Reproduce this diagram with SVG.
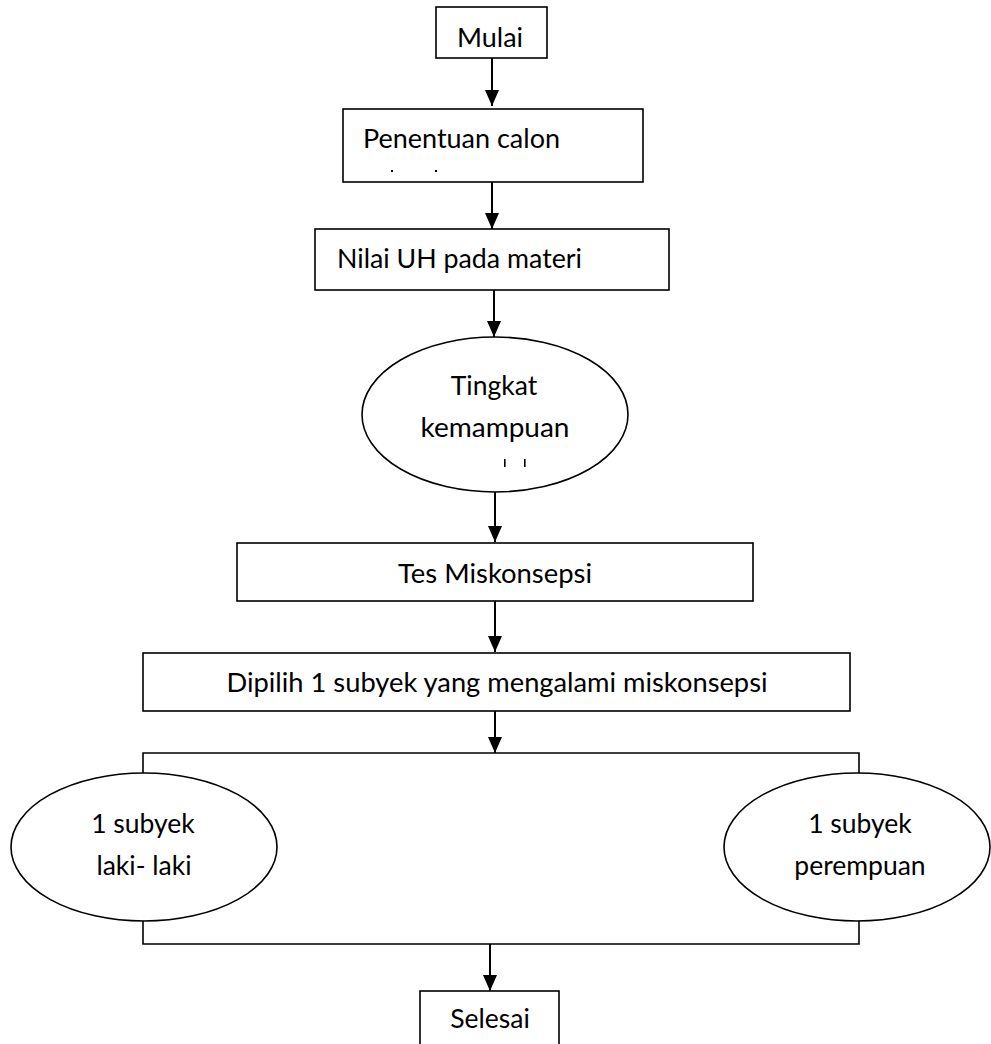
<svg xmlns="http://www.w3.org/2000/svg" width="991" height="1044" viewBox="0 0 991 1044">
<style>
.box{fill:#fff;stroke:#000;stroke-width:1.6}
.t{font-family:Lato,"Liberation Sans",sans-serif;font-size:26.5px;fill:#000}
.c{text-anchor:middle}
.ln{fill:none;stroke:#000;stroke-width:2}
.br{fill:none;stroke:#000;stroke-width:1.6}
.mk{fill:#000;stroke:none}
</style>
<defs>
<marker id="ah" markerUnits="userSpaceOnUse" markerWidth="16" markerHeight="16" refX="16" refY="7" orient="auto">
<path d="M0,0 L16,7 L0,14 Z" fill="#000"/>
</marker>
</defs>
<rect width="991" height="1044" fill="#fff"/>
<g id="mulai">
<rect class="box" x="436" y="7" width="111" height="51"/>
<text class="t c" x="490" y="47" textLength="66" lengthAdjust="spacingAndGlyphs">Mulai</text>
</g>
<g id="penentuan">
<rect class="box" x="343" y="109" width="300" height="73"/>
<text class="t" x="363" y="148" textLength="197" lengthAdjust="spacingAndGlyphs">Penentuan calon</text>
<rect class="mk" x="391" y="170" width="2" height="2"/>
<rect class="mk" x="435" y="170" width="2" height="2"/>
</g>
<g id="nilai">
<rect class="box" x="315" y="229" width="354" height="61"/>
<text class="t" x="337" y="268" textLength="245" lengthAdjust="spacingAndGlyphs">Nilai UH pada materi</text>
</g>
<g id="tingkat">
<ellipse class="box" cx="495" cy="414.5" rx="133" ry="77.5"/>
<text class="t c" x="494" y="395">Tingkat</text>
<text class="t c" x="495" y="437" textLength="149" lengthAdjust="spacingAndGlyphs">kemampuan</text>
<rect class="mk" x="504" y="459" width="1.6" height="8"/>
<rect class="mk" x="524" y="459" width="1.6" height="8"/>
</g>
<g id="tes">
<rect class="box" x="237" y="543" width="516" height="58"/>
<text class="t c" x="495" y="583" textLength="194" lengthAdjust="spacingAndGlyphs">Tes Miskonsepsi</text>
</g>
<g id="dipilih">
<rect class="box" x="143" y="653" width="707" height="58"/>
<text class="t c" x="497" y="692" textLength="541" lengthAdjust="spacingAndGlyphs">Dipilih 1 subyek yang mengalami miskonsepsi</text>
</g>
<g id="laki">
<ellipse class="box" cx="144" cy="847" rx="133" ry="74"/>
<text class="t c" x="143" y="833">1 subyek</text>
<text class="t c" x="144" y="875">laki- laki</text>
</g>
<g id="perempuan">
<ellipse class="box" cx="857" cy="847" rx="133" ry="74"/>
<text class="t c" x="860" y="833">1 subyek</text>
<text class="t c" x="860" y="875">perempuan</text>
</g>
<g id="selesai">
<rect class="box" x="420" y="991" width="139" height="60"/>
<text class="t c" x="490" y="1028">Selesai</text>
</g>
<g id="connectors">
<line class="ln" x1="492" y1="58" x2="492" y2="106" marker-end="url(#ah)"/>
<line class="ln" x1="492" y1="182" x2="492" y2="229" marker-end="url(#ah)"/>
<line class="ln" x1="494" y1="290" x2="494" y2="337" marker-end="url(#ah)"/>
<line class="ln" x1="495" y1="492" x2="495" y2="542" marker-end="url(#ah)"/>
<line class="ln" x1="495" y1="601" x2="495" y2="652" marker-end="url(#ah)"/>
<line class="ln" x1="495" y1="711" x2="495" y2="753" marker-end="url(#ah)"/>
<polyline class="br" points="143,773 143,753 859,753 859,773"/>
<polyline class="br" points="143,921 143,944 859,944 859,921"/>
<line class="ln" x1="490" y1="944" x2="490" y2="991" marker-end="url(#ah)"/>
</g>
</svg>
